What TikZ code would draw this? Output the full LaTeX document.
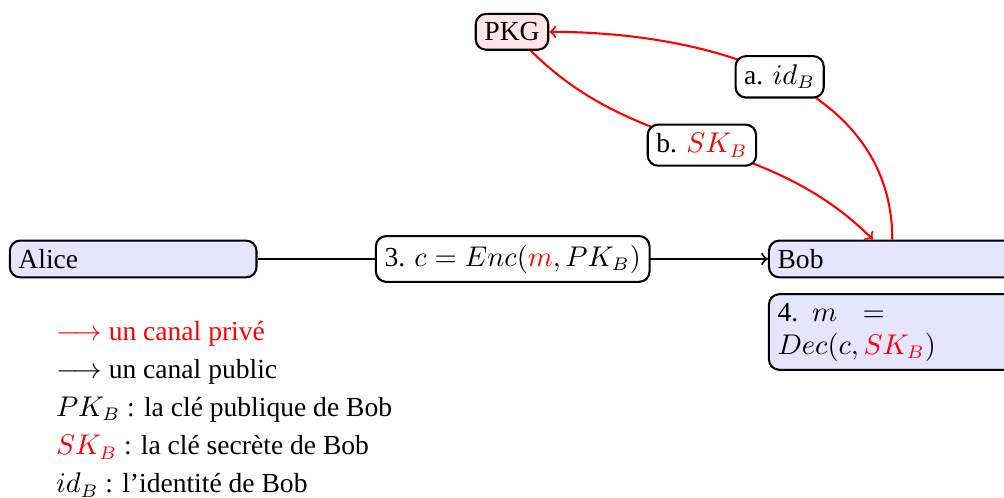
\documentclass[tikz,border=0pt]{standalone}
\usepackage{fontspec}
\setmainfont{Liberation Serif}
\usetikzlibrary{positioning}

\tikzset{
  entite/.style={draw, thick, rounded corners, fill=blue!10, text width=3.1cm},
  serveur/.style={draw, thick, rounded corners, fill=red!10},
  message/.style={draw=black, text=black, thick, rounded corners, fill=white},
  prive/.style={red, thick, ->},
  public/.style={black, thick, ->}
}

\begin{document}
\begin{tikzpicture}[font=\fontsize{10.6pt}{12.7pt}\selectfont]
  \useasboundingbox (0,0) rectangle (13.57,-6.72);
  \node[serveur] (pkg) at (6.92,-0.43) {PKG};
  \node[entite] (alice) at (1.80,-3.50) {Alice};
  \node[entite] (bob) at (12.06,-3.50) {Bob};
  \node[entite, below=0.2cm of bob] (dec) {4. $m = Dec(c,{\color{red}SK_B})$};
  % canal public
  \draw[public] (alice) -- node[message] (enc) {3. $c = Enc({\color{red}m}, PK_B)$} (bob);
  % canaux prives
  \draw[prive] (bob) to[out=90,in=0] node[message] (id) {a. $id_B$} (pkg);
  \draw[prive] (pkg) to[out=-45,in=135] node[message] (sk) {b. ${\color{red}SK_B}$} (bob);
  % legende
  \node[anchor=north west, inner sep=0pt, align=left] (legende) at (0.75,-4.33) {%
    {\color{red}$\longrightarrow$ un canal privé}\\[2pt]
    $\longrightarrow$ un canal public\\[2pt]
    $PK_B$ : la clé publique de Bob\\[2pt]
    ${\color{red}SK_B}$ : la clé secrète de Bob\\[2pt]
    $id_B$ : l'identité de Bob};
\end{tikzpicture}
\end{document}
